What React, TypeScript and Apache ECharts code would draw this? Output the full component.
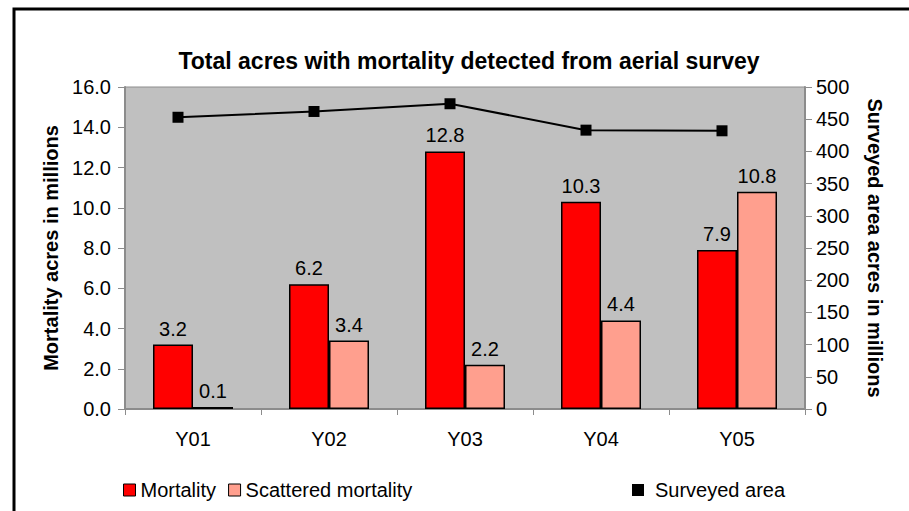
import React, { useEffect, useRef } from "react";
import * as echarts from "echarts";

const categories = ["Y01", "Y02", "Y03", "Y04", "Y05"];
const mortality = [3.2, 6.2, 12.8, 10.3, 7.9];
const scattered = [0.1, 3.4, 2.2, 4.4, 10.8];
const surveyed = [453, 462, 474, 433, 432];

const FONT = '"Liberation Sans", Arial, sans-serif';

export default function App() {
  const ref = useRef<HTMLDivElement>(null);
  useEffect(() => {
    if (!ref.current) return;
    const chart = echarts.init(ref.current, null, { renderer: "svg" });
    const labelStyle = {
      show: true,
      position: "top" as const,
      distance: 6,
      color: "#000",
      fontSize: 20,
      fontFamily: FONT,
      formatter: (p: any) => Number(p.value).toFixed(1),
    };
    chart.setOption({
      animation: false,
      backgroundColor: "#fff",
      textStyle: { fontFamily: FONT },
      title: {
        text: "Total acres with mortality detected from aerial survey",
        left: 464,
        textAlign: "center",
        top: 44,
        textStyle: { fontSize: 23, fontWeight: "bold", color: "#000", fontFamily: FONT },
      },
      graphic: [
        {
          type: "rect",
          shape: { x: 14, y: 9, width: 920, height: 540 },
          style: { fill: "none", stroke: "#000", lineWidth: 3 },
          silent: true,
        },
      ],
      legend: [
        {
          left: 123,
          top: 480,
          padding: 0,
          itemWidth: 12,
          itemHeight: 12,
          itemGap: 12,
          textStyle: { fontSize: 20, color: "#000", fontFamily: FONT },
          data: [
            { name: "Mortality", icon: "rect", itemStyle: { borderColor: "#000", borderWidth: 1 } },
            { name: "Scattered mortality", icon: "rect", itemStyle: { borderColor: "#000", borderWidth: 1 } },
          ],
        },
        {
          left: 632,
          top: 480,
          padding: 0,
          itemWidth: 12,
          itemHeight: 12,
          textStyle: { fontSize: 20, color: "#000", fontFamily: FONT, padding: [0, 0, 0, 6] },
          data: [{ name: "Surveyed area", icon: "rect" }],
        },
      ],
      grid: [
        {
          left: 125,
          right: 104,
          top: 87,
          bottom: 102,
          show: true,
          backgroundColor: "#c0c0c0",
          borderColor: "#8c8c8c",
          borderWidth: 1,
        },
        {
          left: 110,
          right: 119,
          top: 87,
          bottom: 102,
        },
      ],
      xAxis: [
        {
          type: "category",
          gridIndex: 0,
          data: categories,
          axisLine: { lineStyle: { color: "#8c8c8c", width: 2 } },
          axisTick: { show: true, length: 6, lineStyle: { color: "#8c8c8c" } },
          axisLabel: { color: "#000", fontSize: 20, margin: 20, fontFamily: FONT },
        },
        {
          type: "category",
          gridIndex: 1,
          data: categories,
          show: false,
        },
      ],
      yAxis: [
        {
          type: "value",
          gridIndex: 0,
          min: 0,
          max: 16,
          interval: 2,
          name: "Mortality acres in millions",
          nameLocation: "middle",
          nameGap: 62,
          nameTextStyle: { fontSize: 20, fontWeight: "bold", color: "#000", fontFamily: FONT },
          axisLine: { show: true, lineStyle: { color: "#8c8c8c", width: 2 } },
          axisTick: { show: true, length: 7, lineStyle: { color: "#8c8c8c" } },
          axisLabel: {
            color: "#000",
            fontSize: 20,
            margin: 14,
            fontFamily: FONT,
            formatter: (v: number) => v.toFixed(1),
          },
          splitLine: { show: false },
        },
        {
          type: "value",
          gridIndex: 0,
          position: "right",
          min: 0,
          max: 500,
          interval: 50,
          name: "Surveyed area acres in millions",
          nameLocation: "middle",
          nameRotate: -90,
          nameGap: 60,
          nameTextStyle: { fontSize: 20, fontWeight: "bold", color: "#000", fontFamily: FONT },
          axisLine: { show: true, lineStyle: { color: "#8c8c8c", width: 2 } },
          axisTick: { show: true, length: 7, lineStyle: { color: "#8c8c8c" } },
          axisLabel: { color: "#000", fontSize: 20, margin: 11, fontFamily: FONT },
          splitLine: { show: false },
        },
        {
          type: "value",
          gridIndex: 1,
          min: 0,
          max: 500,
          interval: 50,
          show: false,
          splitLine: { show: false },
        },
      ],
      series: [
        {
          name: "Mortality",
          type: "bar",
          xAxisIndex: 0,
          yAxisIndex: 0,
          data: mortality,
          barWidth: 40,
          barGap: "0%",
          itemStyle: { color: "#ff0000", borderColor: "#000", borderWidth: 1.5 },
          label: labelStyle,
        },
        {
          name: "Scattered mortality",
          type: "bar",
          xAxisIndex: 0,
          yAxisIndex: 0,
          data: scattered,
          barWidth: 40,
          barGap: "0%",
          itemStyle: { color: "#ff9f8e", borderColor: "#000", borderWidth: 1.5 },
          label: labelStyle,
        },
        {
          name: "Surveyed area",
          type: "line",
          xAxisIndex: 1,
          yAxisIndex: 2,
          data: surveyed,
          symbol: "rect",
          symbolSize: 11,
          lineStyle: { color: "#000", width: 2 },
          itemStyle: { color: "#000" },
        },
      ],
    });
    return () => chart.dispose();
  }, []);
  return (
    <div
      ref={ref}
      style={{ position: "fixed", left: 0, top: 0, width: 909, height: 511 }}
    />
  );
}
